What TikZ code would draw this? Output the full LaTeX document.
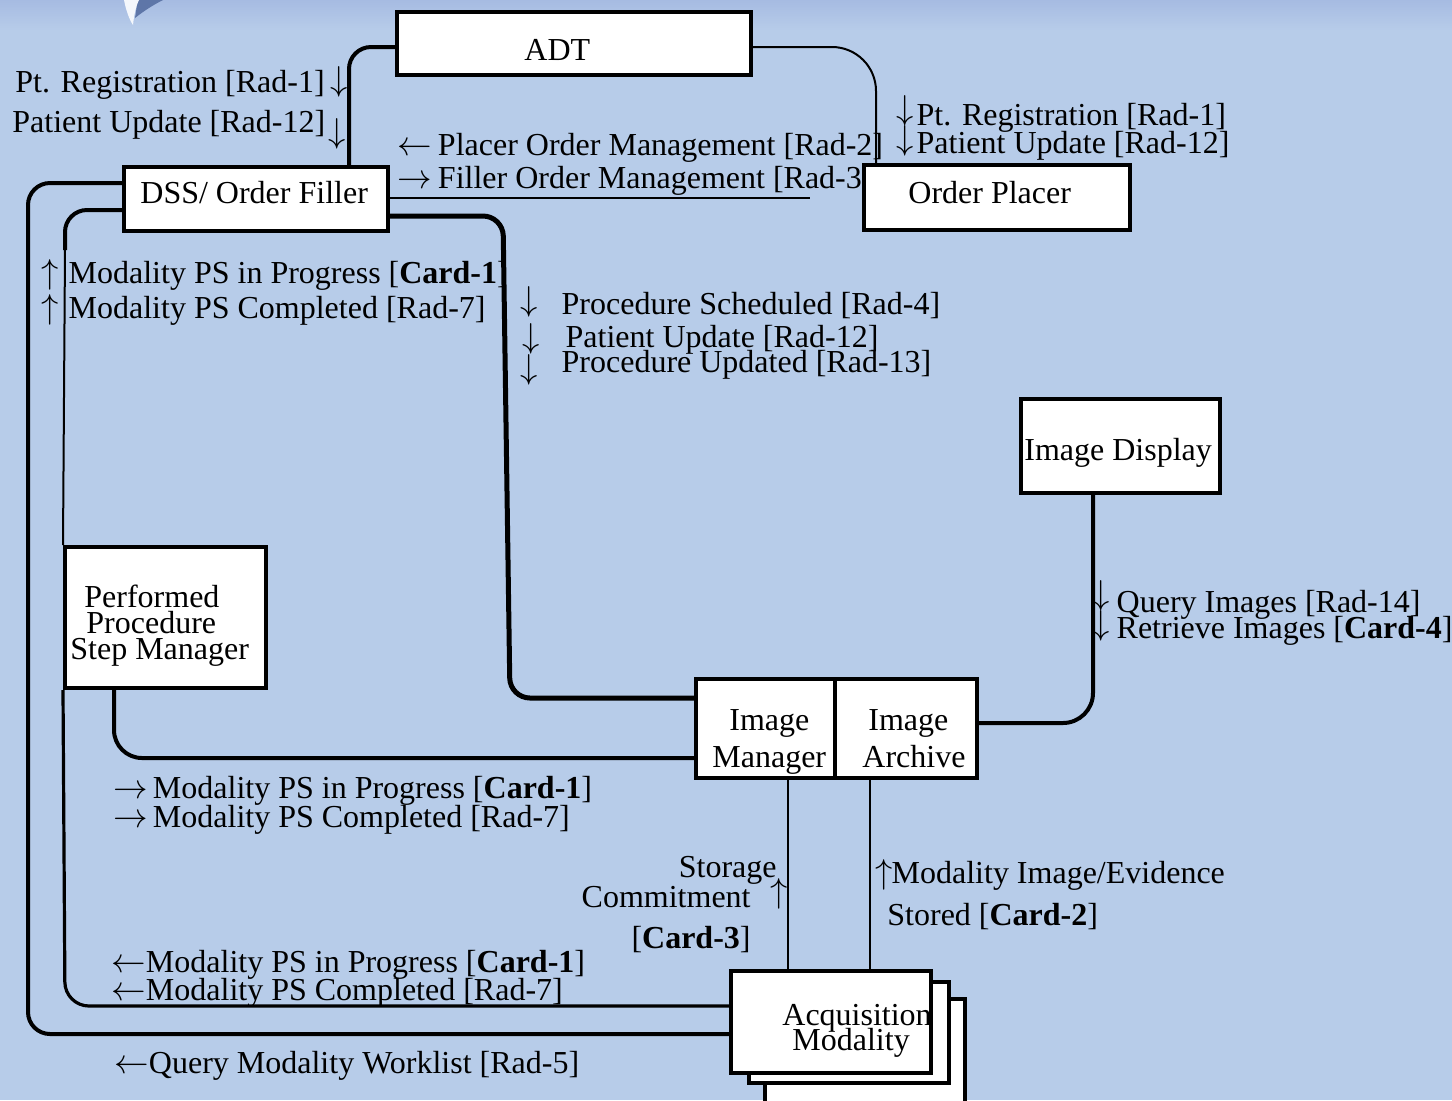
\documentclass[tikz,border=0pt]{standalone}
\usepackage{fontspec}
\setmainfont{Liberation Serif}
\definecolor{bg}{RGB}{183,204,233}
\definecolor{bgtop}{RGB}{166,187,226}
\definecolor{logoblue}{RGB}{35,60,125}
\newcommand{\upa}[1]{\raisebox{#1}{$\downarrow$}}
\begin{document}
\begin{tikzpicture}[x=0.5pt,y=-0.5pt,
  box/.style={draw=black, line width=2pt, fill=white, inner sep=0pt},
  txt/.style={inner sep=0pt, font=\fontsize{16}{16}\selectfont},
  thickconn/.style={line width=2pt},
  thinconn/.style={line width=1pt}]
% background
\fill[bg] (0,0) rectangle (1452,1100);
\shade[top color=bgtop, bottom color=bg] (0,0) rectangle (1452,30);
\useasboundingbox (0,0) rectangle (1452,1100);
% logo fragment
\fill[logoblue!60!bg] (137,0) .. controls (137,6) and (136,12) .. (135,18) .. controls (145,10) and (155,4) .. (163,0) -- cycle;
\fill[white!85!bg] (124,0) .. controls (126,10) and (129,19) .. (133,25) .. controls (134,15) and (136,6) .. (139,0) -- cycle;

% boxes
\node[box, minimum width=177pt, minimum height=31.5pt] (adt) at (574,43.5) {};
\node[box, minimum width=132pt, minimum height=32pt] (dss) at (256,199) {};
\node[box, minimum width=133pt, minimum height=32.5pt] (op) at (997,197.5) {};
\node[box, minimum width=99.5pt, minimum height=47pt] (imgdisp) at (1120.5,446) {};
\node[box, minimum width=100.5pt, minimum height=70.5pt] (ppsm) at (165.5,617.5) {};
\node[box, minimum width=69.5pt, minimum height=49.5pt] (im) at (765.5,728.5) {};
\node[box, minimum width=71pt, minimum height=49.5pt] (ia) at (906,728.5) {};
\filldraw[box] (765,999) rectangle (965,1112);
\filldraw[box] (749,982) rectangle (949,1083);
\node[box, minimum width=100pt, minimum height=51pt] (acq) at (831,1022) {};

% connectors
\draw[thickconn, rounded corners=11pt] (adt.west |- 0,47) -| (349,0 |- dss.north);
\draw[thinconn, rounded corners=22pt] (adt.east |- 0,47) -| (876,0 |- op.north);
\coordinate (fomend) at (810,198);
\draw[thinconn] (dss.east |- fomend) -- (fomend);
\draw[line width=2.5pt, rounded corners=10pt] (dss.east |- 0,216) -- (503,216) -- (510,698) -- (im.west |- 0,698);
\draw[thickconn, rounded corners=11pt] (dss.west |- 0,210) -| (65,250);
\draw[thinconn] (65,250) -- (ppsm.north west);
\draw[line width=1.6pt, rounded corners=12pt] (ppsm.south west) -- (65,1006) -- (acq.west |- 0,1006);
\draw[thickconn, rounded corners=11pt] (dss.west |- 0,183) -- (28,183) -- (28,1034) -- (acq.west |- 0,1034);
\draw[thickconn, rounded corners=14pt] (114,0 |- ppsm.south) -- (114,758) -- (im.west |- 0,758);
\draw[thickconn, rounded corners=15pt] (ia.east |- 0,723) -| (1093,0 |- imgdisp.south);
\draw[thinconn] (im.south -| 788,0) -- (acq.north -| 788,0);
\draw[thinconn] (ia.south -| 870,0) -- (acq.north -| 870,0);

% box texts
\node[txt, anchor=base west] (adtt) at (524,60) {ADT};
\node[txt, anchor=base west] (dsst) at (140,203) {DSS/ Order Filler};
\node[txt, anchor=base west] (opt) at (908,203) {Order Placer};
\node[txt, anchor=base west] (idt) at (1024,460) {Image Display};
\node[txt, anchor=base west] (ppsmt1) at (84,607) {Performed};
\node[txt, anchor=base west] (ppsmt2) at (86,633) {Procedure};
\node[txt, anchor=base west] (ppsmt3) at (70,659) {Step Manager};
\node[txt, anchor=base west] (imt1) at (729,730) {Image};
\node[txt, anchor=base west] (imt2) at (712,767) {Manager};
\node[txt, anchor=base west] (iat1) at (868,730) {Image};
\node[txt, anchor=base west] (iat2) at (862,767) {Archive};
\node[txt, anchor=base west] (acqt1) at (782,1025) {Acquisition};
\node[txt, anchor=base west] (acqt2) at (792,1050) {Modality};

% transaction labels
\node[txt, anchor=base west] (l1) at (15,92) {Pt. Registration [Rad-1]\hspace{3pt}\upa{1pt}};
\node[txt, anchor=base west] (l2) at (12,132) {Patient Update [Rad-12]\hspace{1.5pt}\upa{-5pt}};
\node[txt, anchor=base west] (l3) at (397,155) {$\leftarrow$\hspace{3pt}Placer Order Management [Rad-2]};
\node[txt, anchor=base west] (l4) at (397,188) {$\rightarrow$\hspace{3pt}Filler Order Management [Rad-3};
\node[txt, anchor=base west] (l5) at (896,125) {\upa{3pt}\hspace{1.5pt}Pt. Registration [Rad-1]};
\node[txt, anchor=base west] (l6) at (896,153) {\upa{2pt}\hspace{1.5pt}Patient Update [Rad-12]};
\node[txt, anchor=base west] (l7) at (41,283) {$\uparrow$\hspace{5pt}Modality PS in Progress [\textbf{Card-1}]};
\node[txt, anchor=base west] (l8) at (41,318) {$\uparrow$\hspace{5pt}Modality PS Completed [Rad-7]};
\node[txt, anchor=base west] (l9) at (520,314) {\upa{2pt}\hspace{12pt}Procedure Scheduled [Rad-4]};
\node[txt, anchor=base west] (l10) at (522,347) {\upa{0pt}\hspace{13pt}Patient Update [Rad-12]};
\node[txt, anchor=base west] (l11) at (520,372) {\upa{-3pt}\hspace{12pt}Procedure Updated [Rad-13]};
\node[txt, anchor=base west] (l12) at (1092,612) {\upa{4pt}\hspace{3.5pt}Query Images [Rad-14]};
\node[txt, anchor=base west] (l13) at (1092,638) {\upa{2pt}\hspace{3.5pt}Retrieve Images [\textbf{Card-4}]};
\node[txt, anchor=base west] (l14) at (113,798) {$\rightarrow$\hspace{2.5pt}Modality PS in Progress [\textbf{Card-1}]};
\node[txt, anchor=base west] (l15) at (113,827) {$\rightarrow$\hspace{2.5pt}Modality PS Completed [Rad-7]};
\node[txt, anchor=base east] (l16) at (777,877) {Storage};
\node[txt, anchor=base east] (l17) at (751,907) {Commitment};
\node[txt, anchor=base] (l18) at (779,902) {$\uparrow$};
\node[txt, anchor=base east] (l19) at (751,948) {[\textbf{Card-3}]};
\node[txt, anchor=base west] (l20) at (875,883) {$\uparrow$\hspace{-0.5pt}Modality Image/Evidence};
\node[txt, anchor=base west] (l21) at (887,925) {Stored [\textbf{Card-2}]};
\node[txt, anchor=base west] (l22) at (111,972) {$\leftarrow$Modality PS in Progress [\textbf{Card-1}]};
\node[txt, anchor=base west] (l23) at (111,1000) {$\leftarrow$Modality PS Completed [Rad-7]};
\node[txt, anchor=base west] (l24) at (114,1073) {$\leftarrow$Query Modality Worklist [Rad-5]};
\end{tikzpicture}
\end{document}
